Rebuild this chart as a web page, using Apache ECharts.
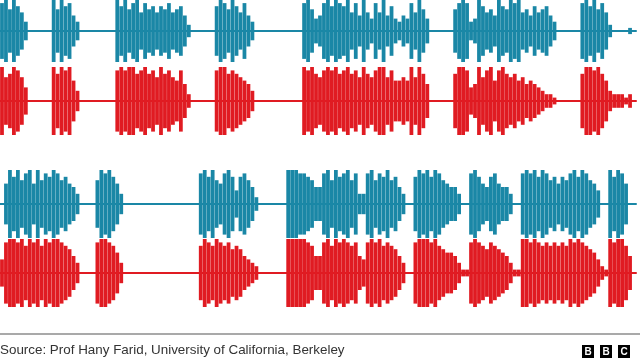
<!DOCTYPE html>
<html>
<head>
<meta charset="utf-8">
<script src="https://cdn.jsdelivr.net/npm/echarts@6/dist/echarts.min.js"></script>
<style>
html,body{margin:0;padding:0;background:#fff;}
#chart{width:640px;height:360px;}
</style>
</head>
<body>
<div id="chart"></div>
<script>
// Envelope amplitude (0-10) read per 4px column, 160 columns per track
const blueTop = [9,10,7,10,8,6,3, 0,0,0,0,0,0, 10,7,10,8,9,5,3, 0,0,0,0,0,0,0,0,0,
  10,8,10,7,9,10,6,9,7,8,6,8,7,9,6,7,8,5,2, 0,0,0,0,0,0,
  8,10,9,7,10,8,6,9,5,3, 0,0,0,0,0,0,0,0,0,0,0,0,
  9,10,7,4,5,9,10,8,10,9,8,10,6,9,5,10,6,4,9,6,10,5,8,4,3,5,4,9,6,10,7,4,
  0,0,0,0,0,0,
  7,9,10,9,3,4,10,8,6,7,5,10,8,7,10,9,10,6,7,5,8,6,7,8,5,3,
  0,0,0,0,0,0, 9,10,8,10,7,9,6,2, 0,0,0,0,1,0];
const redTop = [10,7,8,10,9,7,4, 0,0,0,0,0,0, 10,8,10,9,10,6,3, 0,0,0,0,0,0,0,0,0,
  9,10,9,10,10,8,9,10,8,9,7,10,8,9,7,6,9,5,2, 0,0,0,0,0,0,
  9,10,10,8,9,8,7,6,5,3, 0,0,0,0,0,0,0,0,0,0,0,0,
  10,9,10,8,7,9,10,9,10,8,9,10,8,9,7,10,8,7,9,10,10,7,9,6,6,7,6,10,7,10,8,5,
  0,0,0,0,0,0,
  8,10,10,9,4,5,10,7,9,10,6,9,10,8,7,8,6,7,5,6,5,4,3,2,2,1,
  0,0,0,0,0,0, 8,10,10,9,10,8,6,3, 2,2,2,1,2,0];
const blueBottom = [0, 6,10,8,10,7,9,10,6,10,7,9,8,10,9,7,8,6,5,3, 0,0,0,0,
  7,10,9,10,8,6,3, 0,0,0,0,0,0,0,0,0,0,0,0,0,0,0,0,0,0,0,
  9,10,8,10,7,6,9,10,8,4,8,9,7,5,2, 0,0,0,0,0,0,0,
  10,10,10,9,9,8,7,5,5,9,10,7,10,8,9,10,7,9,3,3,9,10,7,9,8,10,7,8,5,3,
  0,0, 8,10,9,10,8,10,9,7,6,5,5,3, 0,0, 9,10,8,6,5,8,9,6,5,5,3, 0,0,
  9,10,9,10,8,10,9,7,8,6,8,7,9,10,8,10,9,7,6,4, 0,0, 10,8,10,9,6, 0,0];
const redBottom = [4,9,10,10,9,10,8,10,9,10,8,10,9,10,10,9,8,7,5,3, 0,0,0,0,
  9,10,10,9,8,6,3, 0,0,0,0,0,0,0,0,0,0,0,0,0,0,0,0,0,0,0,
  8,10,9,8,10,9,8,9,7,8,7,5,4,3,2, 0,0,0,0,0,0,0,
  10,10,10,10,10,9,8,5,5,9,10,8,10,9,10,9,8,9,5,4,9,10,9,10,8,9,8,7,5,3,
  0,0, 9,10,10,10,9,10,8,7,6,6,5,3, 1,1, 9,10,9,8,7,9,8,7,6,5,3, 1,1,
  10,10,9,10,9,8,9,8,9,8,9,8,10,9,10,9,8,7,6,4, 2,1, 10,9,10,10,8,5, 0];

const tracks = [blueTop, redTop, blueBottom, redBottom];
const sampleIndex = blueTop.map((_, i) => i);
const sourceText = 'Source: Prof Hany Farid, University of California, Berkeley';

const BLUE = '#1a87a6', RED = '#e01b22';
const colors = [BLUE, RED, BLUE, RED];
const tops = [-6, 67, 170, 239];

const chart = echarts.init(document.getElementById('chart'), null, {renderer: 'canvas'});

const grids = [], xAxes = [], yAxes = [], series = [];
tracks.forEach((data, k) => {
  grids.push({left: 0, right: 4, top: tops[k], height: 68});
  xAxes.push({type: 'category', gridIndex: k, data: sampleIndex, boundaryGap: true,
    axisLine: {show: true, onZero: true, lineStyle: {color: colors[k], width: 2}},
    axisTick: {show: false}, axisLabel: {show: false}, splitLine: {show: false}});
  yAxes.push({type: 'value', gridIndex: k, min: -10, max: 10, show: false});
  series.push({
    type: 'custom', xAxisIndex: k, yAxisIndex: k, clip: false, silent: true,
    data: data.map((v, i) => [i, v]),
    renderItem: function (params, api) {
      const v = api.value(1);
      if (!v) return null;
      const t = api.coord([api.value(0), v]);
      const b = api.coord([api.value(0), -v]);
      const w = api.size([1, 0])[0] * 0.95;
      return {type: 'rect', shape: {x: t[0] - w / 2, y: t[1], width: w, height: b[1] - t[1]},
        style: {fill: colors[k]}};
    }
  });
});

chart.setOption({
  animation: false,
  backgroundColor: '#ffffff',
  grid: grids, xAxis: xAxes, yAxis: yAxes, series: series,
  graphic: [
    {type: 'line', shape: {x1: 0, y1: 334, x2: 640, y2: 334}, style: {stroke: '#8c8c8c', lineWidth: 1.5}},
    {type: 'text', left: 0, top: 344, style: {text: sourceText, font: '13.4px "Liberation Sans", Arial, sans-serif', fill: '#333333'}},
    {type: 'group', left: 582, top: 345, children: [
      {type: 'rect', shape: {x: 0, y: 0, width: 12, height: 13}, style: {fill: '#000'}},
      {type: 'text', x: 6, y: 7, style: {text: 'B', font: 'bold 10px "Liberation Sans", Arial', fill: '#fff', align: 'center', verticalAlign: 'middle'}},
      {type: 'rect', shape: {x: 18, y: 0, width: 12, height: 13}, style: {fill: '#000'}},
      {type: 'text', x: 24, y: 7, style: {text: 'B', font: 'bold 10px "Liberation Sans", Arial', fill: '#fff', align: 'center', verticalAlign: 'middle'}},
      {type: 'rect', shape: {x: 36, y: 0, width: 12, height: 13}, style: {fill: '#000'}},
      {type: 'text', x: 42, y: 7, style: {text: 'C', font: 'bold 10px "Liberation Sans", Arial', fill: '#fff', align: 'center', verticalAlign: 'middle'}}
    ]}
  ]
});
</script>
</body>
</html>
